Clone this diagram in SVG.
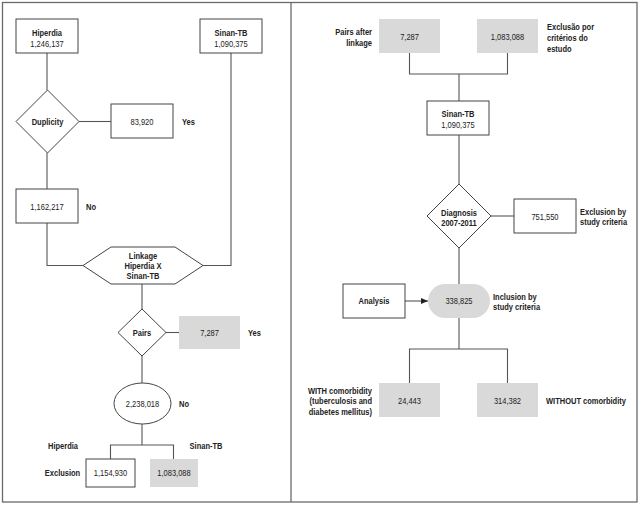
<svg xmlns="http://www.w3.org/2000/svg" width="641" height="513" viewBox="0 0 641 513">
<style>
.bg{fill:#ffffff}
.frame{fill:none;stroke:#6b6b6b;stroke-width:1.3}
.box{fill:#ffffff;stroke:#444444;stroke-width:1}
.gbox{fill:#d9d9d9;stroke:none}
.ln{fill:none;stroke:#555555;stroke-width:1.1}
text{font-family:"Liberation Sans",Arial,sans-serif;font-size:9.5px;fill:#222222}
.b{font-weight:bold}
.c{text-anchor:middle}
.e{text-anchor:end}
</style>
<defs>
<marker id="arr" markerWidth="8" markerHeight="8" refX="7" refY="4" orient="auto" markerUnits="userSpaceOnUse">
<path d="M0,1 L7,4 L0,7 Z" fill="#222222"/>
</marker>
</defs>
<rect class="bg" x="0" y="0" width="641" height="513"/>
<rect class="frame" x="2.5" y="2.5" width="634.5" height="499.5"/>
<line class="frame" x1="291" y1="2.5" x2="291" y2="502"/>

<g id="connectors">
<polyline class="ln" points="47,53 47,90"/>
<polyline class="ln" points="79,121.5 111,121.5"/>
<polyline class="ln" points="47,153 47,189"/>
<polyline class="ln" points="47,223 47,265.5 83,265.5"/>
<polyline class="ln" points="231,53 231,265.5 203,265.5"/>
<polyline class="ln" points="142,284 142,309"/>
<polyline class="ln" points="166,332.5 179,332.5"/>
<polyline class="ln" points="142,356 142,383"/>
<polyline class="ln" points="142,424 142,445"/>
<polyline class="ln" points="110.5,459 110.5,445 173.5,445 173.5,459"/>
<polyline class="ln" points="409.5,53 409.5,74 507.5,74 507.5,53"/>
<polyline class="ln" points="459,74 459,101"/>
<polyline class="ln" points="459,135 459,184"/>
<polyline class="ln" points="491,216 514,216"/>
<polyline class="ln" points="459,248 459,284"/>
<line class="ln" x1="405" y1="301" x2="428" y2="301" marker-end="url(#arr)"/>
<polyline class="ln" points="459,318 459,349"/>
<polyline class="ln" points="409.5,383 409.5,349 507.5,349 507.5,383"/>
</g>

<g id="hiperdia">
<rect class="box" x="16" y="19" width="62" height="34"/>
<text class="b c" transform="translate(47 35.5) scale(0.79 1)">Hiperdia</text>
<text class="c" transform="translate(47 46.5) scale(0.79 1)">1,246,137</text>
</g>
<g id="sinan-left">
<rect class="box" x="200" y="19" width="62" height="34"/>
<text class="b c" transform="translate(231 35.5) scale(0.79 1)">Sinan-TB</text>
<text class="c" transform="translate(231 46.5) scale(0.79 1)">1,090,375</text>
</g>
<g id="duplicity">
<polygon class="box" points="47.5,90 79,121.5 47.5,153 16,121.5"/>
<text class="b c" transform="translate(47.5 124.5) scale(0.79 1)">Duplicity</text>
</g>
<g id="dup-yes">
<rect class="box" x="111" y="104" width="62" height="34"/>
<text class="c" transform="translate(142 124.5) scale(0.79 1)">83,920</text>
<text class="b" transform="translate(182 124.5) scale(0.79 1)">Yes</text>
</g>
<g id="dup-no">
<rect class="box" x="16" y="189" width="62" height="34"/>
<text class="c" transform="translate(47 209.5) scale(0.79 1)">1,162,217</text>
<text class="b" transform="translate(86 209.5) scale(0.79 1)">No</text>
</g>
<g id="linkage">
<polygon class="box" points="83,265.5 111,247 175,247 203,265.5 175,284 111,284"/>
<text class="b c" transform="translate(143 259) scale(0.79 1)">Linkage</text>
<text class="b c" transform="translate(143 269) scale(0.79 1)">Hiperdia X</text>
<text class="b c" transform="translate(143 279) scale(0.79 1)">Sinan-TB</text>
</g>
<g id="pairs">
<polygon class="box" points="142,309 166,332.5 142,356 118,332.5"/>
<text class="b c" transform="translate(142 335.5) scale(0.79 1)">Pairs</text>
</g>
<g id="pairs-yes">
<rect class="gbox" x="179" y="316" width="61" height="33"/>
<text class="c" transform="translate(209.5 335.5) scale(0.79 1)">7,287</text>
<text class="b" transform="translate(248 335.5) scale(0.79 1)">Yes</text>
</g>
<g id="pairs-no">
<ellipse class="box" cx="142.5" cy="403.5" rx="28.5" ry="20.5"/>
<text class="c" transform="translate(142.5 406.5) scale(0.79 1)">2,238,018</text>
<text class="b" transform="translate(179 406.5) scale(0.79 1)">No</text>
</g>
<g id="excl-hiperdia">
<text class="b c" transform="translate(63 449) scale(0.79 1)">Hiperdia</text>
<text class="b c" transform="translate(62.5 476) scale(0.79 1)">Exclusion</text>
<rect class="box" x="86" y="459" width="49" height="28"/>
<text class="c" transform="translate(110.5 476) scale(0.79 1)">1,154,930</text>
</g>
<g id="excl-sinan">
<text class="b c" transform="translate(206 449) scale(0.79 1)">Sinan-TB</text>
<rect class="gbox" x="150" y="459" width="48" height="28"/>
<text class="c" transform="translate(174 476) scale(0.79 1)">1,083,088</text>
</g>

<g id="pairs-after">
<text class="b e" transform="translate(372 35) scale(0.79 1)">Pairs after</text>
<text class="b e" transform="translate(372 46) scale(0.79 1)">linkage</text>
<rect class="gbox" x="379" y="19" width="61" height="34"/>
<text class="c" transform="translate(409.5 39.5) scale(0.79 1)">7,287</text>
</g>
<g id="excl-estudo">
<rect class="gbox" x="477" y="19" width="61" height="34"/>
<text class="c" transform="translate(507.5 39.5) scale(0.79 1)">1,083,088</text>
<text class="b" transform="translate(547 30) scale(0.79 1)">Exclusão por</text>
<text class="b" transform="translate(547 40.5) scale(0.79 1)">critérios do</text>
<text class="b" transform="translate(547 51.5) scale(0.79 1)">estudo</text>
</g>
<g id="sinan-right">
<rect class="box" x="427" y="101" width="62" height="34"/>
<text class="b c" transform="translate(458 116.5) scale(0.79 1)">Sinan-TB</text>
<text class="c" transform="translate(458 128) scale(0.79 1)">1,090,375</text>
</g>
<g id="diagnosis">
<polygon class="box" points="459,184 491,216 459,248 427,216"/>
<text class="b c" transform="translate(459 215.5) scale(0.79 1)">Diagnosis</text>
<text class="b c" transform="translate(459 226) scale(0.79 1)">2007-2011</text>
</g>
<g id="excl-criteria">
<rect class="box" x="514" y="199" width="62" height="34"/>
<text class="c" transform="translate(545 219.5) scale(0.79 1)">751,550</text>
<text class="b" transform="translate(580 215) scale(0.79 1)">Exclusion by</text>
<text class="b" transform="translate(580 225) scale(0.79 1)">study criteria</text>
</g>
<g id="analysis">
<rect class="box" x="343" y="284" width="62" height="34"/>
<text class="b c" transform="translate(374 304) scale(0.79 1)">Analysis</text>
</g>
<g id="inclusion">
<rect class="gbox" x="428" y="284" width="62" height="34" rx="17" ry="17"/>
<text class="c" transform="translate(459 304) scale(0.79 1)">338,825</text>
<text class="b" transform="translate(493 300) scale(0.79 1)">Inclusion by</text>
<text class="b" transform="translate(493 310) scale(0.79 1)">study criteria</text>
</g>
<g id="with">
<text class="b e" transform="translate(372 394) scale(0.79 1)">WITH comorbidity</text>
<text class="b e" transform="translate(372 404) scale(0.79 1)">(tuberculosis and</text>
<text class="b e" transform="translate(372 415) scale(0.79 1)">diabetes mellitus)</text>
<rect class="gbox" x="379" y="383" width="61" height="34"/>
<text class="c" transform="translate(409.5 403.5) scale(0.79 1)">24,443</text>
</g>
<g id="without">
<rect class="gbox" x="477" y="383" width="61" height="34"/>
<text class="c" transform="translate(507.5 403.5) scale(0.79 1)">314,382</text>
<text class="b" transform="translate(546 404) scale(0.79 1)">WITHOUT comorbidity</text>
</g>
</svg>
